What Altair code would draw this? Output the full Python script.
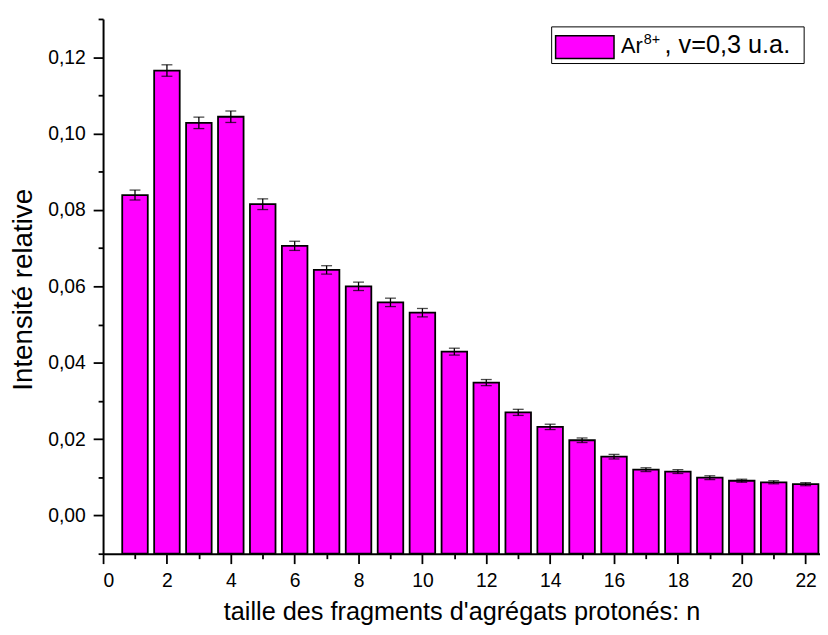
import altair as alt
import pandas as pd

# ---- data ----
n_values = list(range(1, 23))
intensity = [0.0839, 0.1165, 0.1028, 0.1044, 0.0815, 0.0706, 0.0643, 0.0600,
             0.0558, 0.0531, 0.0429, 0.0348, 0.0270, 0.0232, 0.0197, 0.0154,
             0.0120, 0.0115, 0.0099, 0.0091, 0.0087, 0.0082]
error = [0.0013, 0.0015, 0.0015, 0.0015, 0.0014, 0.0012, 0.0011, 0.0011,
         0.0011, 0.0011, 0.0009, 0.0008, 0.0008, 0.0007, 0.0006, 0.0006,
         0.0005, 0.0005, 0.0005, 0.0004, 0.0004, 0.0004]
legend_main = ["Ar"]
legend_sup = ["8+"]
legend_tail = [", v=0,3 u.a."]
x_tick_values = list(range(0, 23))
y_tick_values = [round(i * 0.01, 2) for i in range(-1, 14)]

df = pd.DataFrame({"n": n_values, "intensity": intensity, "error": error})
legend_df = pd.DataFrame({"main": legend_main, "sup": legend_sup, "tail": legend_tail})

FONT = "Liberation Sans"
MAGENTA = "#ff00ff"
YMIN, YMAX = -0.01, 0.13
XMAX = 22.45
X_TITLE = "taille des fragments d'agrégats protonés: n"
Y_TITLE = "Intensité relative"

xscale = alt.Scale(domain=[0, XMAX], nice=False, zero=False)
yscale = alt.Scale(domain=[YMIN, YMAX], nice=False, zero=False)

xaxis = alt.Axis(
    values=x_tick_values,
    labelExpr="datum.value % 2 == 0 ? datum.value : ''",
    tickSize={"condition": {"test": "datum.value % 2 != 0", "value": 5}, "value": 10},
    labelPadding=8,
    title=X_TITLE,
    titleY=66,
    titleFontSize=25.5,
    titleBaseline="alphabetic",
)
yaxis = alt.Axis(
    values=y_tick_values,
    labelExpr="(round(datum.value*100) % 2 == 0 && datum.value > -0.005 && datum.value < 0.125) ? replace(format(datum.value, '.2f'), '.', ',') : ''",
    tickSize={"condition": {"test": "round(datum.value*100) % 2 != 0", "value": 5}, "value": 10},
    labelPadding=8,
    title=Y_TITLE,
    titleX=-72,
    titleY=273,
    titleAngle=270,
    titleFontSize=28,
    titleAlign="center",
    titleBaseline="alphabetic",
)

base = alt.Chart(df).transform_calculate(
    x1="datum.n - 0.4",
    x2="datum.n + 0.4",
    floor=str(YMIN),
    lo="datum.intensity - datum.error",
    hi="datum.intensity + datum.error",
)

bars = base.mark_bar(fill=MAGENTA, stroke="black", strokeWidth=1.8).encode(
    x=alt.X("x1:Q", scale=xscale, axis=xaxis),
    x2="x2:Q",
    y=alt.Y("intensity:Q", scale=yscale, axis=yaxis),
    y2="floor:Q",
)

rules = base.mark_rule(color="black", strokeWidth=1.3).encode(
    x=alt.X("n:Q", scale=xscale, axis=xaxis),
    y=alt.Y("lo:Q", scale=yscale, axis=yaxis),
    y2="hi:Q",
)
cap_hi = base.mark_tick(color="black", orient="horizontal", size=11, thickness=1.3).encode(
    x=alt.X("n:Q", scale=xscale, axis=xaxis),
    y=alt.Y("hi:Q", scale=yscale, axis=yaxis),
)
cap_lo = base.mark_tick(color="black", orient="horizontal", size=11, thickness=1.3).encode(
    x=alt.X("n:Q", scale=xscale, axis=xaxis),
    y=alt.Y("lo:Q", scale=yscale, axis=yaxis),
)

# ---- legend box (drawn as marks, so the ion charge can be a real superscript) ----
leg = alt.Chart(legend_df)
leg_frame = leg.mark_rect(fill="white", stroke="black", strokeWidth=1).encode(
    x=alt.value(453), x2=alt.value(708), y=alt.value(8), y2=alt.value(45)
)
leg_swatch = leg.mark_rect(fill=MAGENTA, stroke="black", strokeWidth=1.5).encode(
    x=alt.value(457), x2=alt.value(516), y=alt.value(17), y2=alt.value(40)
)
leg_main = leg.mark_text(font=FONT, fontSize=22, align="left", baseline="alphabetic", color="black").encode(
    x=alt.value(523), y=alt.value(34), text="main:N"
)
leg_sup = leg.mark_text(font=FONT, fontSize=14.5, align="left", baseline="alphabetic", color="black").encode(
    x=alt.value(546), y=alt.value(25), text="sup:N"
)
leg_tail = leg.mark_text(font=FONT, fontSize=25.5, align="left", baseline="alphabetic", color="black").encode(
    x=alt.value(567), y=alt.value(34), text="tail:N"
)

chart = alt.layer(
    bars, rules, cap_hi, cap_lo, leg_frame, leg_swatch, leg_main, leg_sup, leg_tail
).properties(
    width=724,
    height=540,
    autosize=alt.AutoSizeParams(type="none"),
    padding={"left": 96, "top": 8, "right": 0, "bottom": 75},
).configure_view(stroke=None).configure_axis(
    grid=False,
    domainColor="black",
    domainWidth=2,
    tickColor="black",
    tickWidth=1.8,
    labelColor="black",
    titleColor="black",
    labelFont=FONT,
    titleFont=FONT,
    labelFontSize=19.5,
    titleFontWeight="normal",
)

chart.save("out.html", embed_options={"renderer": "svg", "actions": False})
